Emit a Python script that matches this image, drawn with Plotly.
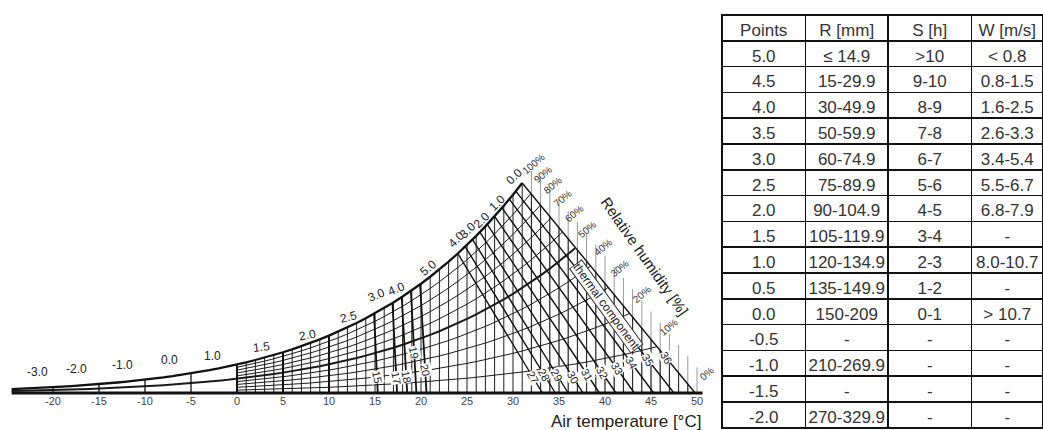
import numpy as np
import plotly.graph_objects as go

# ---------------- data ----------------
# saturation vapour pressure over water (hPa) at integer air temperatures
SAT_T = list(range(-25, 51))
SAT_VP = [0.81, 0.88, 0.96, 1.05, 1.15, 1.25, 1.37, 1.49, 1.62, 1.76,
          1.91, 2.08, 2.25, 2.44, 2.64, 2.86, 3.10, 3.35, 3.62, 3.91,
          4.22, 4.55, 4.90, 5.28, 5.68,
          6.11, 6.57, 7.06, 7.58, 8.13, 8.72, 9.35, 10.02, 10.73, 11.48,
          12.28, 13.12, 14.02, 14.97, 15.98, 17.05, 18.18, 19.37, 20.64, 21.97,
          23.38, 24.87, 26.44, 28.09, 29.84, 31.68, 33.61, 35.65, 37.80, 40.06,
          42.43, 44.93, 47.55, 50.31, 53.20, 56.24, 59.42, 62.76, 66.26, 69.93,
          73.78, 77.80, 82.02, 86.42, 91.03, 95.86, 100.9, 106.2, 111.7, 117.4,
          123.4]
assert len(SAT_T) == len(SAT_VP)

# relative humidity curves: level, start and end temperature
RH_LEVELS = [100, 90, 80, 70, 60, 50, 40, 30, 20, 10, 0]
RH_START_T = [-24.5, 0, 0, 0, 0, -24.5, 0, 0, 0, 0, -24.5]
RH_END_T = [31.0, 31.95, 33.0, 34.1, 35.35, 36.75, 38.45, 40.3, 42.7, 45.6, 50.6]

# thermal-component (effective temperature) lines: top on saturation curve, base on 0 %
ET_VALUES = [-20, -15, -10, -5, 0, 5, 10, 15, 17, 18, 19, 20,
             27, 28, 29, 30, 31, 32, 33, 34, 35, 36]
ET_TOP_T = [-20, -15, -10, -5, 0, 5, 10, 14.9, 16.9, 17.9, 18.9, 19.9,
            24.0, 24.8, 25.6, 26.4, 27.2, 28.0, 28.8, 29.6, 30.3, 31.0]
ET_BASE_T = [-20, -15, -10, -5, 0, 5, 10, 15.3, 17.4, 18.5, 19.5, 20.6,
             33.2, 34.6, 36.0, 37.6, 39.4, 41.2, 43.2, 45.3, 47.5, 49.8]
ET_LABELLED = [15, 17, 18, 19, 20, 27, 28, 29, 30, 31, 32, 33, 34, 35, 36]
ET_LABEL_E = [3.4, 3.2, 3.4, 8.6, 4.9, 3.4, 3.9, 3.9, 3.4, 3.9, 4.3, 5.3, 6.4, 7.1, 7.5]

# thermal comfort points along the saturation curve
SCORE_TEXT = ["-3.0", "-2.0", "-1.0", "0.0", "1.0", "1.5", "2.0", "2.5", "3.0", "4.0",
              "5.0", "4.0", "3.0", "2.0", "1.0", "0.0"]
SCORE_T = [-21.7, -17.4, -12.4, -7.3, -2.7, 2.7, 7.7, 12.1, 15.2, 17.3,
           20.8, 23.9, 25.1, 26.6, 28.3, 30.2]

GRID_T = list(range(0, 51))
X_TICKS = list(range(-20, 51, 5))

# rating table (non-breaking spaces keep every cell on one line)
NB = "\u00a0"
LT, GT = "\u02c2", "\u02c3"
TABLE_HEADER = ["Points", f"R{NB}[mm]", f"S{NB}[h]", f"W{NB}[m/s]"]
POINTS = ["5.0", "4.5", "4.0", "3.5", "3.0", "2.5", "2.0", "1.5", "1.0", "0.5",
          "0.0", "-0.5", "-1.0", "-1.5", "-2.0"]
RAIN = [f"≤{NB}14.9", "15-29.9", "30-49.9", "50-59.9", "60-74.9", "75-89.9", "90-104.9",
        "105-119.9", "120-134.9", "135-149.9", "150-209", "-", "210-269.9", "-", "270-329.9"]
SUN = [f"{GT}10", "9-10", "8-9", "7-8", "6-7", "5-6", "4-5", "3-4", "2-3", "1-2", "0-1",
       "-", "-", "-", "-"]
WIND = [f"{LT}{NB}0.8", "0.8-1.5", "1.6-2.5", "2.6-3.3", "3.4-5.4", "5.5-6.7", "6.8-7.9", "-",
        "8.0-10.7", "-", f"{GT}{NB}10.7", "-", "-", "-", "-"]

# ---------------- layout constants ----------------
W, H = 1043, 430
PX0, PXS = 237.0, 9.2          # pixel of 0 °C, pixels per °C
PY0, PYS = 393.0, 4.674        # pixel of 0 hPa, pixels per hPa
XR = [-25, 51]
YR = [-3, 56]
FONT = "Liberation Sans"


def es(t):
    return np.interp(t, SAT_T, SAT_VP)


def t_grid(t0, t1):
    inner = [t for t in SAT_T if t0 < t < t1]
    return np.array([t0] + inner + [t1], dtype=float)


fig = go.Figure()


def add_path(xs, ys, color, width):
    fig.add_trace(go.Scatter(x=xs, y=ys, mode="lines",
                             line=dict(color=color, width=width),
                             hoverinfo="skip", showlegend=False,
                             xaxis="x", yaxis="y"))


# boundary line = last thermal line
b_top_t, b_base_t = ET_TOP_T[-1], ET_BASE_T[-1]
b_top_e = float(es(b_top_t))


def boundary_e(t, shift=0.0):
    return b_top_e * (b_base_t + shift - t) / (b_base_t - b_top_t)


# gray hatch beyond the boundary
gx, gy = [], []
for t in GRID_T:
    if t > b_top_t:
        top = min(boundary_e(t, 2.5), float(es(t)))
        gx += [t, t, None]
        gy += [0, top, None]
add_path(gx, gy, "#9a9a9a", 1)

# vertical grid inside the diagram
vx, vy = [], []
for t in GRID_T:
    top = float(es(t)) if t <= b_top_t else boundary_e(t)
    if top > 0:
        vx += [t, t, None]
        vy += [0, top, None]
add_path(vx, vy, "#1e1e1e", 1.0)

# relative humidity curves
for rh, t0, t1 in zip(RH_LEVELS, RH_START_T, RH_END_T):
    ts = t_grid(t0, t1)
    if rh == 100:
        add_path(ts, es(ts), "#111", 2.3)
    elif rh == 0:
        add_path([t0, t1], [0, 0], "#111", 3)
    else:
        width = 2.0 if rh == 50 else 1.0
        add_path(ts, rh / 100.0 * es(ts), "#1a1a1a", width)

# thermal component lines
for et, tt, tb in zip(ET_VALUES, ET_TOP_T, ET_BASE_T):
    if et < 0:
        w = 1.3
    elif et <= 10:
        w = 2.0
    elif et <= 20:
        w = 1.8
    else:
        w = 1.4
    add_path([tt, tb], [float(es(tt)), 0], "#111", w)

annotations = []

# score labels along the saturation curve
SCORE_LIFT = [3.4, 3.6, 3.6, 3.5, 2.9, 2.4, 1.9, 2.2, 3.6, 2.5, 2.1, 3.2, 3.0, 2.2, 2.1, 3.4]
SCORE_ANGLE = [0, 0, 0, 0, 0, -6, -10, -14, -22, -22, -40, -45, -45, -45, -45, -45]
for txt, t, lift, ang in zip(SCORE_TEXT, SCORE_T, SCORE_LIFT, SCORE_ANGLE):
    annotations.append(dict(x=t, y=float(es(t)) + lift, xref="x", yref="y", text=txt,
                            showarrow=False, textangle=ang,
                            xanchor="center", yanchor="middle",
                            font=dict(family=FONT, size=12, color="#222")))

# relative humidity labels at curve ends
for rh, t1 in zip(RH_LEVELS, RH_END_T):
    t_end = min(t1, b_base_t)
    e_end = rh / 100.0 * float(es(t_end))
    annotations.append(dict(x=t_end, y=e_end, xref="x", yref="y", text=f"{rh}%",
                            showarrow=False, textangle=-40, xshift=12, yshift=19,
                            xanchor="center", yanchor="middle",
                            font=dict(family=FONT, size=10, color="#333")))

# thermal line labels
for et, e_lab in zip(ET_LABELLED, ET_LABEL_E):
    i = ET_VALUES.index(et)
    tt, tb = ET_TOP_T[i], ET_BASE_T[i]
    et_top = float(es(tt))
    t_lab = tb - (tb - tt) * e_lab / et_top
    ang = 78 if et <= 20 else 60
    annotations.append(dict(x=t_lab, y=e_lab, xref="x", yref="y", text=str(et),
                            showarrow=False, textangle=ang, bgcolor="white", borderpad=0,
                            xanchor="center", yanchor="middle",
                            font=dict(family=FONT, size=11, color="#222")))

annotations.append(dict(x=645 / W, y=(H - 256) / H, xref="paper", yref="paper",
                        xanchor="center", yanchor="middle",
                        text="Relative humidity [%]", showarrow=False, textangle=55,
                        font=dict(family=FONT, size=15, color="#222")))
annotations.append(dict(x=606 / W, y=(H - 306) / H, xref="paper", yref="paper",
                        xanchor="center", yanchor="middle",
                        text="thermal component", showarrow=False, textangle=54,
                        bgcolor="white", bordercolor="#333", borderwidth=1, borderpad=0,
                        font=dict(family=FONT, size=12, color="#222")))
annotations.append(dict(x=703 / W, y=(H - 421) / H, xref="paper", yref="paper",
                        xanchor="right", yanchor="middle",
                        text="Air temperature [°C]", showarrow=False,
                        font=dict(family=FONT, size=17, color="#222")))

# ---------------- table ----------------
fig.add_trace(go.Table(
    domain=dict(x=[722 / W, 1.0], y=[0.0, (H - 15) / H]),
    columnwidth=[84, 83, 84, 72],
    header=dict(values=TABLE_HEADER, height=25.8, align="center", fill_color="white",
                line=dict(color="#111", width=1.5),
                font=dict(family=FONT, size=17, color="#333")),
    cells=dict(values=[POINTS, RAIN, SUN, WIND], height=25.8, align="center",
               fill_color="white", line=dict(color="#111", width=1.5),
               font=dict(family=FONT, size=17, color="#333")),
))

x_px0 = PX0 + PXS * XR[0]
x_px1 = PX0 + PXS * XR[1]
y_px_bot = PY0 - PYS * YR[0]
y_px_top = PY0 - PYS * YR[1]

fig.update_layout(
    width=W, height=H, margin=dict(l=0, r=0, t=0, b=0),
    paper_bgcolor="white", plot_bgcolor="white",
    xaxis=dict(domain=[x_px0 / W, x_px1 / W], range=XR, anchor="free",
               position=(H - PY0) / H, showgrid=False, zeroline=False, showline=False,
               tickmode="array", tickvals=X_TICKS, ticktext=[str(t) for t in X_TICKS],
               ticks="", tickfont=dict(family=FONT, size=11, color="#444"),
               automargin=False, fixedrange=True),
    yaxis=dict(domain=[(H - y_px_bot) / H, (H - y_px_top) / H], range=YR,
               visible=False, automargin=False, fixedrange=True),
    annotations=annotations,
    showlegend=False,
)

fig.write_html("out.html")
